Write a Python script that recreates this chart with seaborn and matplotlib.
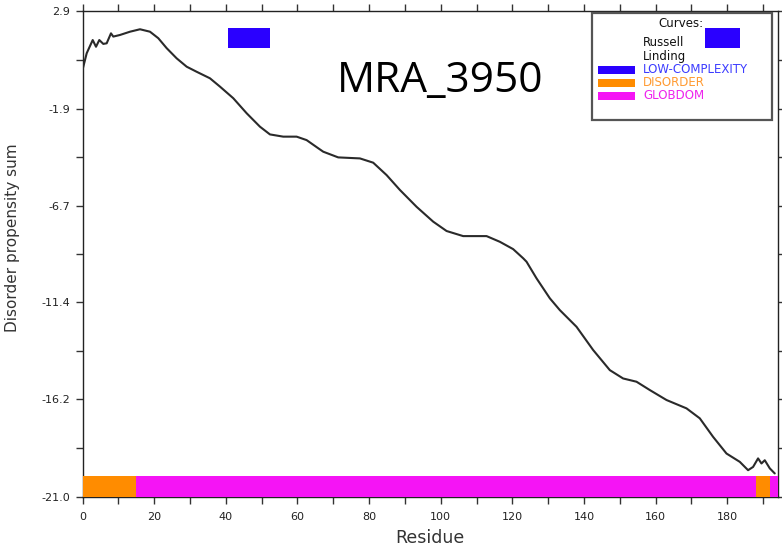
import matplotlib
matplotlib.use("Agg")
import matplotlib.pyplot as plt
import seaborn as sns
import pandas as pd
from matplotlib.ticker import FixedLocator, MultipleLocator
from matplotlib.patches import Rectangle

# ---- data ----
residue = [0.0, 1.17, 2.85, 3.77, 4.69, 5.81, 6.75, 7.95, 8.60, 10.47, 13.26, 16.05,
           18.84, 21.16, 23.50, 26.29, 29.08, 31.87, 35.58, 38.38, 42.09, 45.83,
           49.54, 52.33, 56.04, 59.78, 62.57, 65.81, 67.21, 71.39, 77.45, 81.16,
           84.90, 88.61, 93.27, 97.91, 101.65, 106.28, 112.81, 116.52, 120.23,
           123.03, 123.97, 126.77, 130.48, 133.27, 137.93, 142.56, 147.22, 150.93,
           154.67, 158.39, 163.05, 168.63, 172.34, 176.05, 179.79, 183.51, 185.82,
           187.22, 188.61, 189.56, 190.48, 191.88, 193.27]
propensity = [0.00, 0.82, 1.47, 1.14, 1.47, 1.28, 1.31, 1.80, 1.64, 1.72, 1.88, 2.00,
              1.88, 1.56, 1.07, 0.57, 0.16, -0.09, -0.41, -0.82, -1.39, -2.13,
              -2.79, -3.17, -3.28, -3.28, -3.45, -3.85, -4.02, -4.30, -4.35, -4.56,
              -5.17, -5.90, -6.73, -7.46, -7.92, -8.17, -8.17, -8.45, -8.81,
              -9.26, -9.43, -10.25, -11.23, -11.81, -12.63, -13.77, -14.76, -15.17,
              -15.33, -15.74, -16.23, -16.64, -17.13, -18.04, -18.86, -19.27, -19.68,
              -19.52, -19.10, -19.35, -19.19, -19.59, -19.84]

# domain bar segments (start, end, kind)
seg_start = [0, 15, 188, 192]
seg_end = [15, 188, 192, 194.2]
seg_kind = ["DISORDER", "GLOBDOM", "DISORDER", "GLOBDOM"]

# low-complexity boxes
lc_start = [40.6, 173.7]
lc_end = [52.3, 183.5]
lc_low = [1.08, 1.08]
lc_high = [2.06, 2.06]

ytick_vals = [2.9, -1.9, -6.7, -11.4, -16.2, -21.0]
ytick_labels = ["2.9", "-1.9", "-6.7", "-11.4", "-16.2", "-21.0"]
xtick_vals = [0, 20, 40, 60, 80, 100, 120, 140, 160, 180]

legend_curves = ["Russell", "Linding"]
legend_items = ["LOW-COMPLEXITY", "DISORDER", "GLOBDOM"]

colors = {"LOW-COMPLEXITY": "#2a00ff", "DISORDER": "#ff8c00", "GLOBDOM": "#f514f5"}
text_colors = {"LOW-COMPLEXITY": "#3c3cff", "DISORDER": "#ff9a30", "GLOBDOM": "#ee22ee"}

sns.set_style("ticks")
plt.rcParams['font.family'] = ['DejaVu Sans']

fig = plt.figure(figsize=(7.82, 5.48), dpi=100)
ax = fig.add_axes([0.1055, 0.093, 0.8895, 0.887])

df = pd.DataFrame({"Residue": residue, "Propensity": propensity})
sns.lineplot(data=df, x="Residue", y="Propensity", ax=ax, color="#2a2a2a",
             linewidth=1.5, sort=False, zorder=4)

# domain bar
bar_bottom = -21.0
bar_top = -19.97
for s, e, k in zip(seg_start, seg_end, seg_kind):
    ax.barh(bar_bottom, e - s, left=s, height=bar_top - bar_bottom, align="edge",
            color=colors[k], edgecolor="none", zorder=3)

ax.set_xlim(0, 194.2)
ax.set_ylim(-21.0, 2.9)

ax.set_yticks(ytick_vals)
ax.set_yticklabels(ytick_labels)
ax.yaxis.set_minor_locator(FixedLocator([(a + b) / 2 for a, b in zip(ytick_vals[:-1], ytick_vals[1:])]))
ax.set_xticks(xtick_vals)
ax.xaxis.set_minor_locator(MultipleLocator(10))
ax.tick_params(which="both", direction="out", length=5, width=1, color="#333333",
               top=True, right=True, labelsize=8, labelcolor="#222222")
ax.tick_params(axis="y", pad=4)
ax.tick_params(axis="x", pad=6)
for sp in ax.spines.values():
    sp.set_visible(True)
    sp.set_color("#222222")
    sp.set_linewidth(1.0)

ax.set_xlabel("Residue", fontsize=12.5, color="#333333", labelpad=5)
ax.set_ylabel("Disorder propensity sum", fontsize=11, color="#333333")
ax.yaxis.set_label_coords(-0.090, 0.533)

# title text
ax.text(71.0, -1.07, "MRA_3950", fontsize=30.5, family=["Open Sans", "DejaVu Sans"],
        color="black", va="baseline", ha="left", zorder=7)

# legend box (placed in axes fraction)
def px2ax(x, y):
    x0, x1, y0, y1 = 82.5, 778.0, 11.0, 497.0
    return (x - x0) / (x1 - x0), 1 - (y - y0) / (y1 - y0)

lx0, ly0 = px2ax(592, 120)
lx1, ly1 = px2ax(772, 13)
ax.add_patch(Rectangle((lx0, ly0), lx1 - lx0, ly1 - ly0, transform=ax.transAxes,
                       facecolor="white", edgecolor="#555555", linewidth=1.6, zorder=5))

# low complexity boxes (above legend box)
for s, e, lo, hi in zip(lc_start, lc_end, lc_low, lc_high):
    ax.bar(s, hi - lo, width=e - s, bottom=lo, align="edge",
           color=colors["LOW-COMPLEXITY"], edgecolor="none", zorder=7)

tx, ty = px2ax(681, 24)
ax.text(tx, ty, "Curves:", transform=ax.transAxes, fontsize=8.5, ha="center", va="center",
        color="#111111", zorder=8)
for label, py in zip(legend_curves, [43, 57]):
    tx, ty = px2ax(643, py)
    ax.text(tx, ty, label, transform=ax.transAxes, fontsize=8.5, ha="left", va="center",
            color="#111111", zorder=8)
for k, py in zip(legend_items, [70, 83, 96]):
    rx0, ry0 = px2ax(598, py + 4)
    rx1, ry1 = px2ax(635, py - 4)
    ax.add_patch(Rectangle((rx0, ry0), rx1 - rx0, ry1 - ry0, transform=ax.transAxes,
                           facecolor=colors[k], edgecolor="none", zorder=8))
    tx, ty = px2ax(643, py)
    ax.text(tx, ty, k, transform=ax.transAxes, fontsize=8.5, ha="left", va="center",
            color=text_colors[k], zorder=8)

fig.savefig("out.png", dpi=100)
